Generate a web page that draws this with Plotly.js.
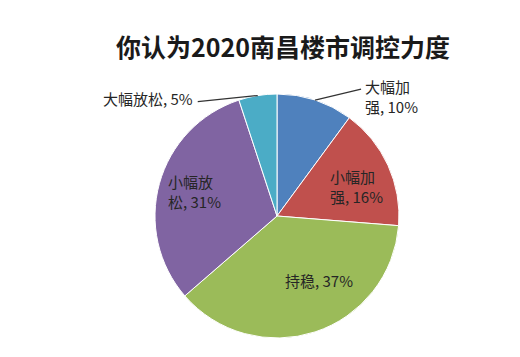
<!DOCTYPE html>
<html>
<head>
<meta charset="utf-8">
<script src="https://cdn.plot.ly/plotly-3.0.1.min.js"></script>
<style>html,body{margin:0;padding:0;background:#fff;}#chart{width:520px;height:357px;}</style>
</head>
<body>
<div id="chart"></div>
<script>
// ---- data ----
const categories = ["大幅加强", "小幅加强", "持稳", "小幅放松", "大幅放松"];
const shares = [10, 16, 37, 31, 5];
const labelLines = ["大幅加<br>强", "小幅加<br>强", "持稳", "小幅放<br>松", "大幅放松"];
const colors = ["#4F81BD", "#C0504D", "#9BBB59", "#8064A2", "#4BACC6"];
const titleText = "你认为2020南昌楼市调控力度";

// ---- geometry (styling) ----
const W = 520, H = 357;
const cx = 277, cy = 216, R = 122;
const fontFam = '"Noto Sans CJK SC", "Noto Sans", sans-serif';
// label placement per slice: inside -> [angle offset deg, radius px]; outside -> leader line
const labelStyle = [
  {mode: "out", dx: 46, dy: -11, anchor: "left", ty: 97},
  {mode: "in", off: 4, r: 85},
  {mode: "in", off: -15, r: 77},
  {mode: "in", off: 1, r: 86},
  {mode: "out", dx: -60, dy: 6, anchor: "right", ty: 98}
];

const total = shares.reduce((a, b) => a + b, 0);
function pt(angDeg, r) {
  const a = angDeg * Math.PI / 180;
  return [cx + r * Math.sin(a), cy - r * Math.cos(a)];
}
const px2x = x => x / W, px2y = y => 1 - y / H;
const labelFont = {family: fontFam, size: 15, color: "#262626"};

const annotations = [], shapes = [];
let cum = 0;
shares.forEach((v, i) => {
  const mid = (cum + v / 2) / total * 360;
  cum += v;
  const pctText = Math.round(v / total * 100) + "%";
  const txt = labelLines[i] + ", " + pctText;
  const s = labelStyle[i];
  if (s.mode === "in") {
    const [x, y] = pt(mid + s.off, s.r);
    annotations.push({x: px2x(x), y: px2y(y), xref: "paper", yref: "paper", text: txt,
      showarrow: false, align: "left", xanchor: "center", yanchor: "middle", font: labelFont});
  } else {
    const [ex, ey] = pt(mid, R);
    const lx = ex + s.dx, ly = ey + s.dy;
    shapes.push({type: "line", xref: "paper", yref: "paper",
      x0: px2x(ex), y0: px2y(ey), x1: px2x(lx), y1: px2y(ly),
      line: {color: "#333", width: 1.2}});
    annotations.push({x: px2x(lx + (s.anchor === "left" ? 2 : -3)), y: px2y(s.ty),
      xref: "paper", yref: "paper", text: txt, showarrow: false, align: "left",
      xanchor: s.anchor, yanchor: "middle", font: labelFont});
  }
});

const trace = {
  type: "pie",
  labels: categories,
  values: shares,
  sort: false,
  direction: "clockwise",
  rotation: 0,
  textinfo: "none",
  hoverinfo: "label+percent",
  marker: {colors: colors, line: {color: "#ffffff", width: 1}},
  domain: {x: [(cx - R) / W, (cx + R) / W], y: [1 - (cy + R) / H, 1 - (cy - R) / H]},
  showlegend: false
};

const layout = {
  width: W, height: H,
  margin: {l: 0, r: 0, t: 0, b: 0},
  paper_bgcolor: "#ffffff",
  title: {text: "<b>" + titleText + "</b>", x: 283 / W, xanchor: "center", xref: "paper",
    y: 1 - 48 / H, yanchor: "middle", yref: "container",
    font: {family: fontFam, size: 25, color: "#1a1a1a"}},
  annotations: annotations,
  shapes: shapes,
  showlegend: false
};

Plotly.newPlot("chart", [trace], layout, {displayModeBar: false, staticPlot: true});
</script>
</body>
</html>
